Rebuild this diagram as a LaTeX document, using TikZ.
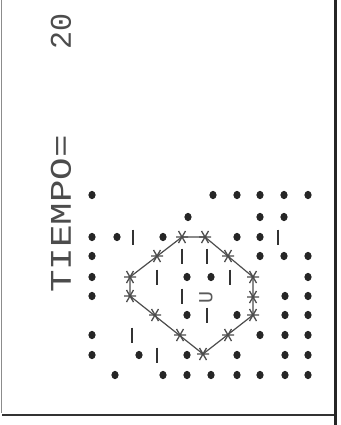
\documentclass[tikz,border=0pt]{standalone}
\usepackage{fontspec}
\usepackage{graphicx}
\newfontfamily\prn{Liberation Mono}
\begin{document}
\begin{tikzpicture}[x=1pt,y=-1pt,
  dotm/.style={fill=black!85},
  barm/.style={line width=2.4pt,draw=black!80},
  edgeline/.style={draw=black!70,line width=1.2pt,line join=round},
  astk/.style={draw=black!70,line width=1.3pt},
  txt/.style={text=black!70,font=\prn\fontsize{30}{30}\selectfont,rotate=90,inner sep=0pt}]
\useasboundingbox (0,0) rectangle (340,425);
\fill[white] (0,0) rectangle (340,425);
% frame
\draw[black!45,line width=1pt] (1.5,0) -- (1.5,413);
\draw[black!85,line width=2.5pt] (335.5,0) -- (335.5,425);
\draw[black!80,line width=2pt] (2,415) -- (334,415);
% text
\node[txt] (tiempo) at (61,214) {\scalebox{1.25}[1]{TIEMPO=}};
\node[txt] (valor) at (61,31) {\scalebox{1.0}[1]{20}};
% dots
\foreach \x/\y in {92/195,213/195,237/195,260/195,284/195,308/195,
  188/217,260/217,284/217,
  92/237,117/237,163/237,237/237,260/237,
  92/256,260/256,284/256,308/256,
  92/277,187/277,211/277,308/277,
  92/296,285/296,308/296,
  187/315,237/315,285/315,308/315,
  92/335,260/335,285/335,308/335,
  92/355,139/355,187/355,237/355,285/355,308/355,
  115/375,163/375,187/375,211/375,237/375,260/375,285/375,308/375}
  \fill[dotm] (\x,\y) ellipse [x radius=3.6pt, y radius=4.2pt];
% bars
\foreach \x/\y in {133/237,278/237,182/256,207/256,157/277,230/277,
  182/296,207/315,132/335,157/355}
  \draw[barm] (\x,\y-7.5) -- (\x,\y+7.5);
% polygon
\coordinate (v1) at (182,237);
\coordinate (v2) at (205,237);
\coordinate (v3) at (253,277);
\coordinate (v4) at (253,315);
\coordinate (v5) at (203,354);
\coordinate (v6) at (130,296);
\coordinate (v7) at (130,277);
\draw[edgeline] (v1) -- (v2) -- (v3) -- (v4) -- (v5) -- (v6) -- (v7) -- cycle;
% asterisks
\foreach \x/\y in {182/237,205/237,253/277,253/315,203/354,130/296,130/277,
  228/256,253/297,228/335,180/335,155/315,157/256}
  \draw[astk] (\x-6,\y) -- (\x+6,\y) (\x-3.5,\y-6) -- (\x+3.5,\y+6) (\x-3.5,\y+6) -- (\x+3.5,\y-6);
% centre mark
\node[text=black!65,font=\prn\fontsize{20}{20}\selectfont,rotate=90,inner sep=0pt] (centro) at (206,297) {U};
\end{tikzpicture}
\end{document}
